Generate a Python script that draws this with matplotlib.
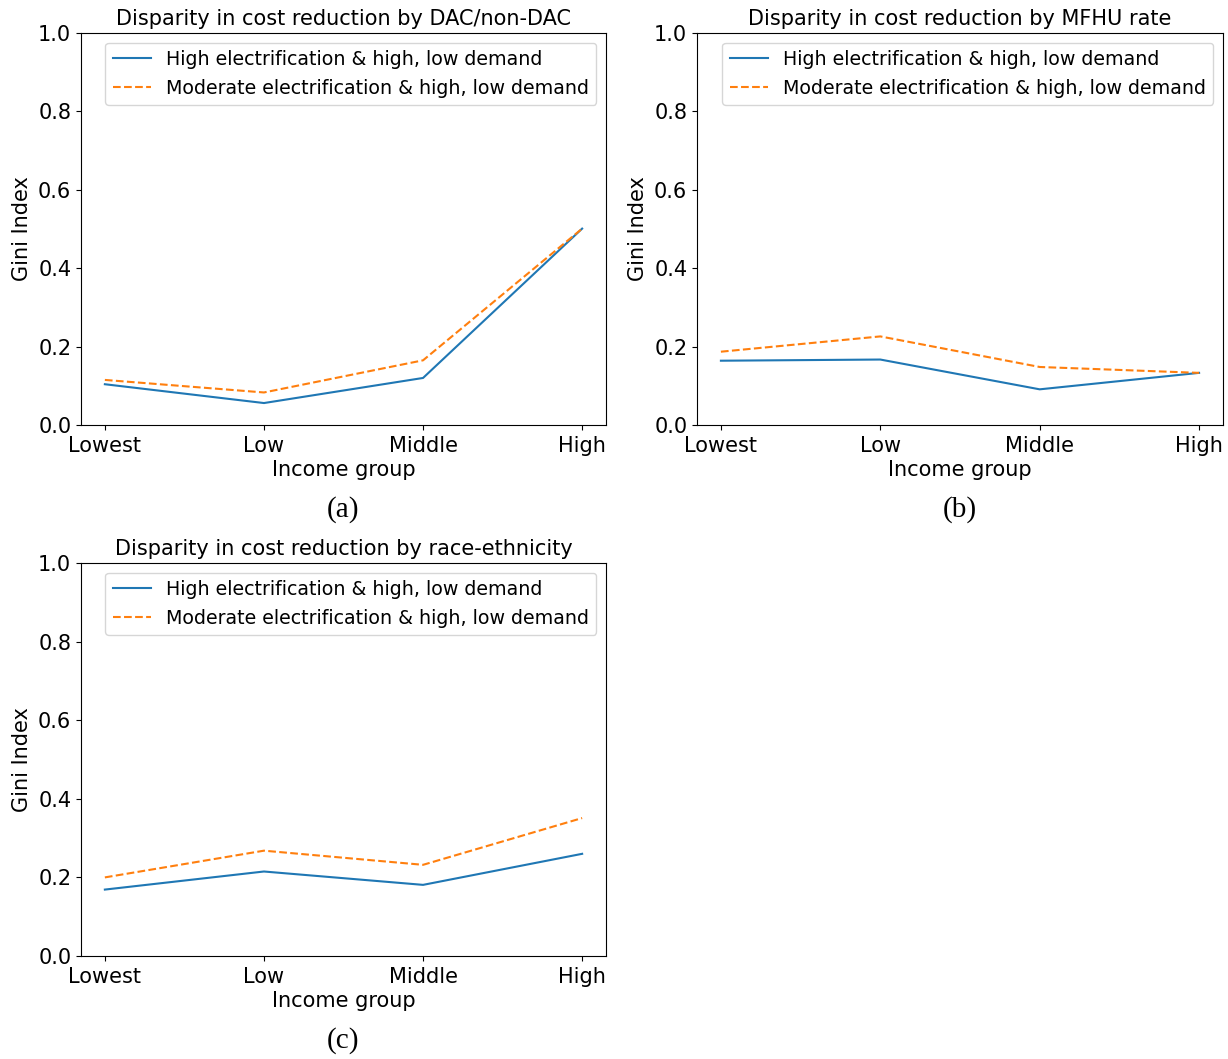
import matplotlib.pyplot as plt

groups = ['Lowest', 'Low', 'Middle', 'High']
label_high = 'High electrification & high, low demand'
label_mod = 'Moderate electrification & high, low demand'

# Gini index
dac_high = [0.104, 0.056, 0.120, 0.501]
dac_mod = [0.115, 0.083, 0.165, 0.501]
mfhu_high = [0.164, 0.167, 0.091, 0.133]
mfhu_mod = [0.187, 0.226, 0.148, 0.133]
race_high = [0.169, 0.215, 0.181, 0.260]
race_mod = [0.200, 0.268, 0.232, 0.351]

panels = [
    ('Disparity in cost reduction by DAC/non-DAC', dac_high, dac_mod, '(a)'),
    ('Disparity in cost reduction by MFHU rate', mfhu_high, mfhu_mod, '(b)'),
    ('Disparity in cost reduction by race-ethnicity', race_high, race_mod, '(c)'),
]

W, H = 1228, 1059
# axes boxes in pixels: left, top, width, height
boxes = [(81, 33, 525, 392), (697, 33, 526, 392), (81, 563, 525, 393)]

fig = plt.figure(figsize=(W / 100, H / 100), dpi=100)

for (title, hi, mod, cap), (l, t, w, h) in zip(panels, boxes):
    ax = fig.add_axes([l / W, (H - t - h) / H, w / W, h / H])
    x = range(len(groups))
    ax.plot(x, hi, color='#1f77b4', label=label_high)
    ax.plot(x, mod, color='#ff7f0e', linestyle='--', label=label_mod)
    ax.set_ylim(0, 1.0)
    ax.set_xticks(list(x))
    ax.set_xticklabels(groups, fontsize=15)
    ax.tick_params(axis='y', labelsize=15)
    ax.tick_params(axis='x', pad=4.5)
    ax.set_title(title, fontsize=15, pad=6)
    ax.set_xlabel('Income group', fontsize=15, labelpad=3)
    ax.set_ylabel('Gini Index', fontsize=15)
    ax.legend(loc='upper right', fontsize=13.7)
    # caption below each panel
    fig.text((l + w / 2) / W, (H - t - h - 85) / H, cap, ha='center', va='center',
             fontsize=21, family='Liberation Serif')

fig.savefig('out.png', dpi=100)
